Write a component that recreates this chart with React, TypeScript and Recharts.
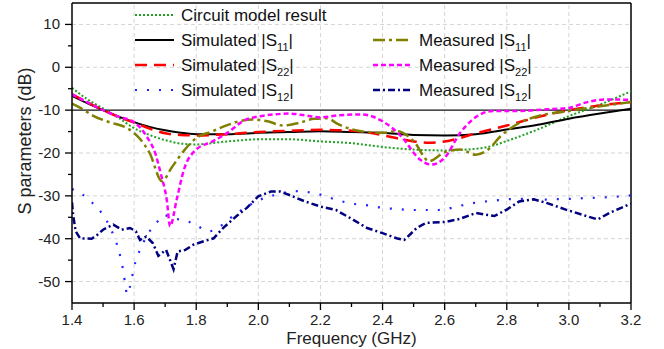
import React from 'react';
import { LineChart, Line, XAxis, YAxis, ReferenceLine, Legend } from 'recharts';

if (typeof document !== 'undefined') document.body.style.margin = '0';

const FONT = 'Arial, "Liberation Sans", Helvetica, sans-serif';

// [frequency GHz, dB]
const circuitModel: [number, number][] = [
  [1.4, -4.8], [1.45, -7.5], [1.5, -9.6], [1.55, -11.8], [1.6, -14.2], [1.65, -15.8],
  [1.7, -17.0], [1.75, -17.8], [1.8, -18.0], [1.85, -17.7], [1.9, -17.3], [1.95, -17.0],
  [2.0, -16.8], [2.1, -16.8], [2.2, -17.3], [2.3, -17.7], [2.4, -18.6], [2.5, -19.2],
  [2.6, -19.4], [2.67, -19.2], [2.75, -18.4], [2.8, -17.2], [2.9, -14.5], [3.0, -11.4],
  [3.1, -8.7], [3.2, -5.6],
];

const simS11: [number, number][] = [
  [1.4, -6.7], [1.45, -8.4], [1.5, -10.0], [1.55, -11.5], [1.6, -12.8], [1.65, -13.9],
  [1.7, -14.7], [1.75, -15.3], [1.8, -15.6], [1.9, -15.6], [2.0, -15.3], [2.1, -15.1],
  [2.2, -14.9], [2.3, -15.1], [2.4, -15.3], [2.5, -15.8], [2.6, -15.9], [2.7, -15.6],
  [2.8, -14.5], [2.9, -13.4], [3.0, -12.0], [3.1, -10.8], [3.2, -9.7],
];

const simS22: [number, number][] = [
  [1.4, -6.3], [1.45, -8.2], [1.5, -10.0], [1.55, -11.6], [1.6, -12.9], [1.65, -14.3],
  [1.7, -15.4], [1.75, -15.8], [1.8, -15.9], [1.9, -15.6], [2.0, -15.1], [2.1, -14.8],
  [2.2, -14.6], [2.3, -14.8], [2.35, -15.2], [2.45, -16.6], [2.5, -17.3], [2.55, -17.6],
  [2.6, -17.3], [2.65, -16.5], [2.7, -15.4], [2.75, -14.5], [2.8, -13.6], [2.85, -12.6],
  [2.9, -11.6], [3.0, -10.0], [3.1, -8.9], [3.2, -8.1],
];

const simS12: [number, number][] = [
  [1.4, -28.4], [1.434, -29.7], [1.462, -31.4], [1.488, -33.3], [1.51, -35.6], [1.539, -40.2],
  [1.551, -42.8], [1.559, -45.3], [1.566, -47.9], [1.571, -50.5], [1.578, -53.0], [1.586, -51.4],
  [1.593, -49.1], [1.6, -46.6], [1.611, -44.0], [1.627, -41.4], [1.641, -39.2], [1.665, -37.1],
  [1.695, -34.5], [1.732, -35.3], [1.77, -35.9], [1.804, -37.0], [1.838, -38.3], [1.87, -37.5],
  [1.899, -35.8], [1.942, -33.5], [1.985, -31.6], [2.028, -30.3], [2.06, -29.7], [2.103, -29.0],
  [2.135, -28.9], [2.173, -29.3], [2.205, -29.8], [2.25, -30.9], [2.31, -31.9], [2.36, -32.3],
  [2.39, -32.7], [2.45, -33.1], [2.5, -33.3], [2.58, -33.3], [2.65, -32.3], [2.69, -31.7],
  [2.76, -31.1], [2.8, -30.8], [2.84, -30.7], [2.9, -30.9], [2.95, -30.8], [3.0, -30.7],
  [3.06, -30.5], [3.1, -30.4], [3.15, -30.2], [3.2, -29.9],
];

const measS11: [number, number][] = [
  [1.4, -8.5], [1.43, -9.6], [1.47, -11.4], [1.52, -12.8], [1.58, -14.3], [1.62, -16.8],
  [1.65, -20.0], [1.69, -26.6], [1.72, -23.5], [1.76, -19.5], [1.8, -16.5], [1.85, -15.0],
  [1.9, -13.5], [1.95, -12.4], [1.98, -12.2], [2.03, -12.6], [2.08, -13.6], [2.13, -13.0],
  [2.18, -12.0], [2.22, -11.9], [2.26, -13.4], [2.33, -14.9], [2.4, -15.3], [2.445, -14.9],
  [2.5, -17.2], [2.55, -21.9], [2.6, -19.8], [2.65, -19.2], [2.7, -20.4], [2.74, -19.2],
  [2.78, -16.1], [2.84, -13.0], [2.9, -11.4], [3.0, -10.2], [3.1, -9.1], [3.2, -8.1],
];

const measS22: [number, number][] = [
  [1.4, -6.3], [1.45, -8.2], [1.5, -10.0], [1.55, -11.5], [1.6, -12.8], [1.64, -16.1],
  [1.67, -20.5], [1.685, -24.6], [1.705, -30.9], [1.716, -37.1], [1.737, -30.9], [1.76, -24.0],
  [1.8, -19.2], [1.85, -17.4], [1.9, -15.3], [1.96, -12.2], [2.0, -11.5], [2.05, -11.0],
  [2.1, -10.8], [2.15, -11.2], [2.2, -11.7], [2.26, -11.2], [2.33, -11.0], [2.4, -12.6],
  [2.46, -16.1], [2.52, -21.5], [2.557, -22.7], [2.6, -21.1], [2.65, -15.3], [2.69, -12.2],
  [2.755, -10.2], [2.84, -10.2], [2.93, -9.8], [3.0, -9.5], [3.05, -8.3], [3.12, -7.5],
  [3.2, -7.6],
];

const measS12: [number, number][] = [
  [1.4, -31.5], [1.404, -34.7], [1.412, -38.3], [1.426, -39.9], [1.463, -40.0], [1.48, -39.2],
  [1.5, -37.9], [1.533, -36.7], [1.56, -37.9], [1.587, -37.5], [1.606, -38.3], [1.619, -40.3],
  [1.639, -39.5], [1.66, -41.0], [1.678, -44.0], [1.703, -42.6], [1.727, -47.1], [1.74, -43.0],
  [1.765, -42.6], [1.791, -41.4], [1.824, -40.6], [1.856, -39.9], [1.888, -37.4], [1.93, -34.7],
  [1.963, -32.8], [2.0, -30.1], [2.04, -29.0], [2.07, -29.0], [2.1, -29.8], [2.15, -31.3],
  [2.2, -32.5], [2.25, -33.3], [2.306, -35.6], [2.35, -37.5], [2.4, -38.7], [2.445, -39.9],
  [2.47, -40.3], [2.51, -37.5], [2.54, -36.3], [2.6, -36.1], [2.648, -35.4], [2.7, -34.0],
  [2.76, -34.7], [2.8, -33.2], [2.84, -31.3], [2.887, -30.8], [2.93, -31.7], [2.99, -33.2],
  [3.056, -34.7], [3.093, -35.5], [3.13, -34.0], [3.2, -31.8],
];

const xTicks = [1.4, 1.5, 1.6, 1.7, 1.8, 1.9, 2.0, 2.1, 2.2, 2.3, 2.4, 2.5, 2.6, 2.7, 2.8, 2.9, 3.0, 3.1, 3.2];
const yTicks = [-50, -45, -40, -35, -30, -25, -20, -15, -10, -5, 0, 5, 10];
const xGrid = [1.6, 1.8, 2.0, 2.2, 2.4, 2.6, 2.8, 3.0];
const yGrid = [-50, -40, -30, -20, 0, 10];

const toPoints = (arr: [number, number][]) => arr.map(([f, v]) => ({ f, v }));

const SERIES = [
  { key: 'circuit', name: 'Circuit model result', sub: '', data: circuitModel, color: '#22a022', width: 2, dash: '2 2', curve: 'monotone', col: 0, row: 0 },
  { key: 'simS11', name: 'Simulated |S', sub: '11', data: simS11, color: '#000000', width: 2, dash: undefined, curve: 'monotone', col: 0, row: 1 },
  { key: 'simS22', name: 'Simulated |S', sub: '22', data: simS22, color: '#ff0000', width: 2.5, dash: '12 7', curve: 'monotone', col: 0, row: 2 },
  { key: 'simS12', name: 'Simulated |S', sub: '12', data: simS12, color: '#2222ff', width: 2.2, dash: '2 10', curve: 'monotone', col: 0, row: 3 },
  { key: 'measS11', name: 'Measured |S', sub: '11', data: measS11, color: '#808000', width: 2.5, dash: '12 4 3 4', curve: 'monotone', col: 1, row: 1 },
  { key: 'measS22', name: 'Measured |S', sub: '22', data: measS22, color: '#ff00ff', width: 2.5, dash: '5 3', curve: 'monotone', col: 1, row: 2 },
  { key: 'measS12', name: 'Measured |S', sub: '12', data: measS12, color: '#000080', width: 2.5, dash: '7 3 2 3', curve: 'linear', col: 1, row: 3 },
];

const XTick = (props: any) => {
  const { x, y, payload } = props;
  const major = Math.round(payload.value * 10) % 2 === 0;
  return (
    <g>
      <line x1={x} y1={y} x2={x} y2={y + (major ? 7 : 4)} stroke="#000" strokeWidth={1.3} />
      {major && (
        <text x={x} y={y + 22} textAnchor="middle" fontSize={15} fontFamily={FONT} fill="#222">
          {payload.value.toFixed(1)}
        </text>
      )}
    </g>
  );
};

const YTick = (props: any) => {
  const { x, y, payload } = props;
  const major = payload.value % 10 === 0;
  return (
    <g>
      <line x1={x - (major ? 7 : 4)} y1={y} x2={x} y2={y} stroke="#000" strokeWidth={1.3} />
      {major && (
        <text x={x - 12} y={y + 5} textAnchor="end" fontSize={15} fontFamily={FONT} fill="#222">
          {payload.value}
        </text>
      )}
    </g>
  );
};

const XTitle = (props: any) => {
  const vb = props.viewBox;
  return (
    <text x={vb.x + vb.width / 2} y={vb.y + 41} textAnchor="middle" fontSize={17} fontFamily={FONT} fill="#222">
      Frequency (GHz)
    </text>
  );
};

const YTitle = (props: any) => {
  const vb = props.viewBox;
  const cy = vb.y + vb.height / 2 - 12;
  return (
    <text x={31} y={cy} transform={`rotate(-90 31 ${cy})`} textAnchor="middle" fontSize={18} fontFamily={FONT} fill="#222">
      S parameters (dB)
    </text>
  );
};

const renderLegend = () => (
  <svg width={664} height={110} style={{ display: 'block' }}>
    {SERIES.map((s) => {
      const x0 = s.col === 0 ? 135 : 373;
      const y = 15 + s.row * 25;
      return (
        <g key={s.key}>
          <line x1={x0} y1={y} x2={x0 + 39} y2={y} stroke={s.color} strokeWidth={s.width} strokeDasharray={s.dash} />
          <text x={x0 + 46} y={y + 6} fontSize={17} fontFamily={FONT} fill="#111">
            {s.name}
            {s.sub && (
              <>
                <tspan dy={5} fontSize={11}>{s.sub}</tspan>
                <tspan dy={-5}>|</tspan>
              </>
            )}
          </text>
        </g>
      );
    })}
  </svg>
);

export default function App() {
  return (
    <LineChart width={664} height={349} margin={{ top: 3, right: 33, left: 0, bottom: 0 }}>
      <XAxis
        dataKey="f"
        type="number"
        domain={[1.4, 3.2]}
        ticks={xTicks}
        interval={0}
        allowDataOverflow
        height={46}
        tickSize={0}
        tickMargin={0}
        tickLine={false}
        tick={<XTick />}
        axisLine={{ stroke: '#000', strokeWidth: 1.5 }}
        label={<XTitle />}
      />
      <YAxis
        type="number"
        domain={[-55, 15]}
        ticks={yTicks}
        interval={0}
        allowDataOverflow
        width={72}
        tickSize={0}
        tickMargin={0}
        tickLine={false}
        tick={<YTick />}
        axisLine={{ stroke: '#000', strokeWidth: 1.5 }}
        label={<YTitle />}
      />
      {xGrid.map((v) => (
        <ReferenceLine key={`gx${v}`} x={v} stroke="#d4d4d4" strokeDasharray="4 3" strokeWidth={1} />
      ))}
      {yGrid.map((v) => (
        <ReferenceLine key={`gy${v}`} y={v} stroke="#d4d4d4" strokeDasharray="4 3" strokeWidth={1} />
      ))}
      <ReferenceLine y={-10} stroke="#111" strokeWidth={1.3} />
      <ReferenceLine y={15} stroke="#000" strokeWidth={1.5} />
      <ReferenceLine x={3.2} stroke="#000" strokeWidth={1.5} />
      {SERIES.map((s) => (
        <Line
          key={s.key}
          data={toPoints(s.data)}
          dataKey="v"
          name={s.key}
          type={s.curve as any}
          stroke={s.color}
          strokeWidth={s.width}
          strokeDasharray={s.dash}
          dot={false}
          activeDot={false}
          isAnimationActive={false}
        />
      ))}
      <Legend
        content={renderLegend}
        layout="horizontal"
        verticalAlign="middle"
        align="center"
        wrapperStyle={{ left: 0, top: 0, width: 664, height: 110, pointerEvents: 'none' }}
      />
    </LineChart>
  );
}
